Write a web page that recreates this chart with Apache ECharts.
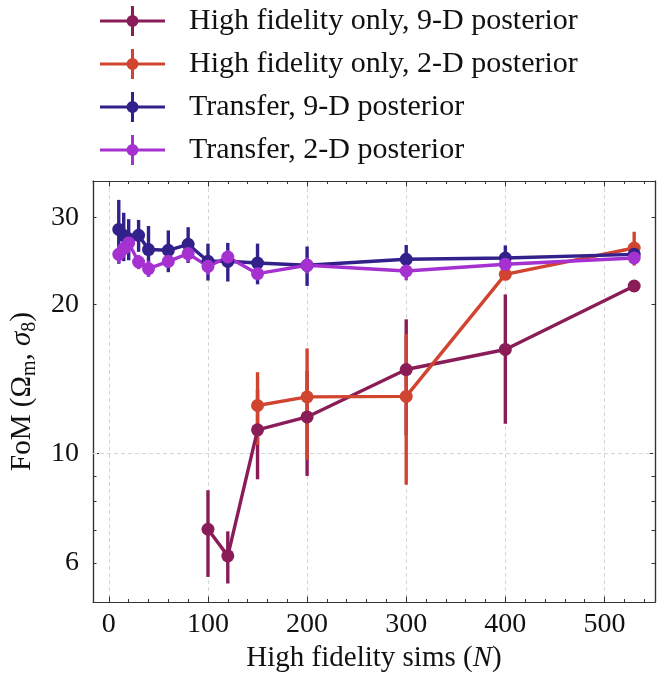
<!DOCTYPE html>
<html>
<head>
<meta charset="utf-8">
<script src="https://cdn.jsdelivr.net/npm/echarts@6/dist/echarts.min.js"></script>
<style>
html, body { margin: 0; padding: 0; background: #fff; }
#chart { width: 657px; height: 679px; }
</style>
</head>
<body>
<div id="chart"></div>
<script>
// Figure of merit vs number of high fidelity simulations
const hf9N   = [100, 120, 150, 200, 300, 400, 530];
const hf9Fom = [7.02, 6.20, 11.16, 11.85, 14.78, 16.23, 21.82];
const hf9Err = [1.40, 0.75, 2.30, 2.85, 3.90, 4.75, 0.30];

const hf2N   = [150, 200, 300, 400, 530];
const hf2Fom = [12.50, 13.01, 13.04, 23.04, 26.05];
const hf2Err = [2.10, 3.30, 4.40, 0.50, 2.05];

const tr9N   = [10, 15, 20, 30, 40, 60, 80, 100, 120, 150, 200, 300, 400, 530];
const tr9Fom = [28.40, 27.60, 27.20, 27.64, 25.86, 25.77, 26.50, 24.48, 24.48, 24.29, 24.03, 24.71, 24.86, 25.29];
const tr9Err = [4.20, 3.10, 2.60, 2.05, 3.00, 2.50, 2.20, 2.10, 2.20, 2.30, 2.20, 1.70, 1.50, 0.50];

const tr2N   = [10, 15, 20, 30, 40, 60, 80, 100, 120, 150, 200, 300, 400, 530];
const tr2Fom = [25.29, 25.98, 26.67, 24.40, 23.66, 24.48, 25.38, 23.91, 24.98, 23.11, 24.03, 23.40, 24.14, 24.86];
const tr2Err = [1.00, 0.90, 1.20, 0.80, 0.90, 0.70, 1.00, 0.90, 0.80, 0.70, 0.90, 1.00, 0.80, 0.60];

const seriesNames = [
  'High fidelity only, 9-D posterior',
  'High fidelity only, 2-D posterior',
  'Transfer, 9-D posterior',
  'Transfer, 2-D posterior'
];

const xTicks = [0, 100, 200, 300, 400, 500];
const yTickLabels = [6, 10, 20, 30];
const yMinorTicks = [6, 7, 8, 9, 20, 30];
const yMajorTicks = [10];

const FONT = 'Liberation Serif';
const INK = '#111';
const SPINE = '#333';
const COLORS = ['#8a1c58', '#d1442f', '#33218b', '#a532d0'];

// errorbar-style legend glyph: horizontal line, vertical bar and a dot
const ICON = 'path://M0 13.5 L65 13.5 L65 16.5 L0 16.5 Z M31 0 L34 0 L34 30 L31 30 Z ' +
             'M38.5 15 A6 6 0 1 1 26.5 15 A6 6 0 1 1 38.5 15 Z';

function points(ns, vals) { return ns.map((n, i) => [n, vals[i]]); }
function ranges(ns, vals, errs) { return ns.map((n, i) => [n, vals[i] - errs[i], vals[i] + errs[i]]); }

function errorBars(name, data, color) {
  return {
    type: 'custom',
    name: name + ' err',
    data: data,
    z: 2,
    silent: true,
    clip: true,
    encode: { x: 0, y: [1, 2] },
    renderItem: function (params, api) {
      const x = api.value(0);
      const a = api.coord([x, api.value(1)]);
      const b = api.coord([x, api.value(2)]);
      return {
        type: 'line',
        shape: { x1: a[0], y1: a[1], x2: b[0], y2: b[1] },
        style: { stroke: color, lineWidth: 3.4 }
      };
    }
  };
}

function lineSeries(name, data, color) {
  return {
    type: 'line',
    name: name,
    data: data,
    z: 3,
    symbol: 'circle',
    symbolSize: 13,
    showAllSymbol: true,
    clip: true,
    lineStyle: { color: color, width: 3.4 },
    itemStyle: { color: color },
    emphasis: { disabled: true },
    animation: false
  };
}

const groups = [
  [hf9N, hf9Fom, hf9Err],
  [hf2N, hf2Fom, hf2Err],
  [tr9N, tr9Fom, tr9Err],
  [tr2N, tr2Fom, tr2Err]
];

const series = [];
groups.forEach((g, k) => series.push(errorBars(seriesNames[k], ranges(g[0], g[1], g[2]), COLORS[k])));
groups.forEach((g, k) => series.push(lineSeries(seriesNames[k], points(g[0], g[1]), COLORS[k])));

// dashed reference line at the decade
series[0].markLine = {
  silent: true,
  symbol: 'none',
  z: 1,
  label: { show: false },
  lineStyle: { color: '#d6d6d6', type: [4, 3], width: 1 },
  data: [{ yAxis: 10 }]
};

const X_MIN = -16, X_MAX = 551;
const Y_MIN = 5.0, Y_MAX = 35.6;

function xAxisDef(pos, withLabels) {
  return {
    type: 'value',
    position: pos,
    min: X_MIN,
    max: X_MAX,
    axisLine: { show: true, onZero: false, lineStyle: { color: SPINE, width: 1.2 } },
    axisTick: { show: true, inside: true, length: 5.5, customValues: xTicks, lineStyle: { color: SPINE, width: 1 } },
    minorTick: { show: true, splitNumber: 5, length: 3, lineStyle: { color: SPINE, width: 1 } },
    axisLabel: withLabels
      ? { show: true, customValues: xTicks, fontFamily: FONT, fontSize: 28, color: INK, margin: 9 }
      : { show: false },
    splitLine: withLabels
      ? { show: true, lineStyle: { color: '#d6d6d6', type: [4, 3], width: 1 } }
      : { show: false },
    name: withLabels ? '{a|High fidelity sims (}{i|N}{a|)}' : '',
    nameLocation: 'middle',
    nameGap: 38,
    nameTextStyle: {
      rich: {
        a: { fontFamily: FONT, fontSize: 29, color: INK },
        i: { fontFamily: FONT, fontSize: 29, color: INK, fontStyle: 'italic' }
      }
    }
  };
}

function yAxisDef(pos, ticks, len, withLabels) {
  const ax = {
    type: 'log',
    logBase: 10,
    position: pos,
    min: Y_MIN,
    max: Y_MAX,
    axisLine: { show: true, onZero: false, lineStyle: { color: SPINE, width: 1.2 } },
    axisTick: { show: true, inside: true, length: len, customValues: ticks, lineStyle: { color: SPINE, width: 1 } },
    minorTick: { show: false },
    splitLine: { show: false },
    axisLabel: withLabels
      ? { show: true, customValues: yTickLabels, fontFamily: FONT, fontSize: 28, color: INK, margin: 14 }
      : { show: false }
  };
  if (withLabels) {
    ax.name = '{a|FoM (Ω}{s|m}{a|, }{i|σ}{s|8}{a|)}';
    ax.nameLocation = 'middle';
    ax.nameGap = 50;
    ax.nameTextStyle = {
      rich: {
        a: { fontFamily: FONT, fontSize: 29, color: INK, verticalAlign: 'bottom', padding: [0, 0, 3, 0] },
        i: { fontFamily: FONT, fontSize: 29, color: INK, fontStyle: 'italic', verticalAlign: 'bottom', padding: [0, 0, 3, 0] },
        s: { fontFamily: FONT, fontSize: 20, color: INK, verticalAlign: 'bottom' }
      }
    };
  }
  return ax;
}

const chart = echarts.init(document.getElementById('chart'), null, { renderer: 'canvas' });
chart.setOption({
  animation: false,
  backgroundColor: '#fff',
  textStyle: { fontFamily: FONT },
  grid: { left: 93, top: 181, width: 562, height: 421, containLabel: false },
  legend: {
    orient: 'vertical',
    left: 100,
    top: 6,
    padding: 0,
    itemWidth: 65,
    itemHeight: 30,
    itemGap: 13,
    selectedMode: false,
    textStyle: { fontFamily: FONT, fontSize: 30, color: INK, padding: [0, 0, 0, 19] },
    data: seriesNames.map(n => ({ name: n, icon: ICON }))
  },
  xAxis: [xAxisDef('bottom', true), xAxisDef('top', false)],
  yAxis: [
    yAxisDef('left', yMinorTicks, 3.5, true),
    yAxisDef('right', yMinorTicks, 3.5, false),
    yAxisDef('left', yMajorTicks, 6, false),
    yAxisDef('right', yMajorTicks, 6, false)
  ],
  series: series
});
</script>
</body>
</html>
